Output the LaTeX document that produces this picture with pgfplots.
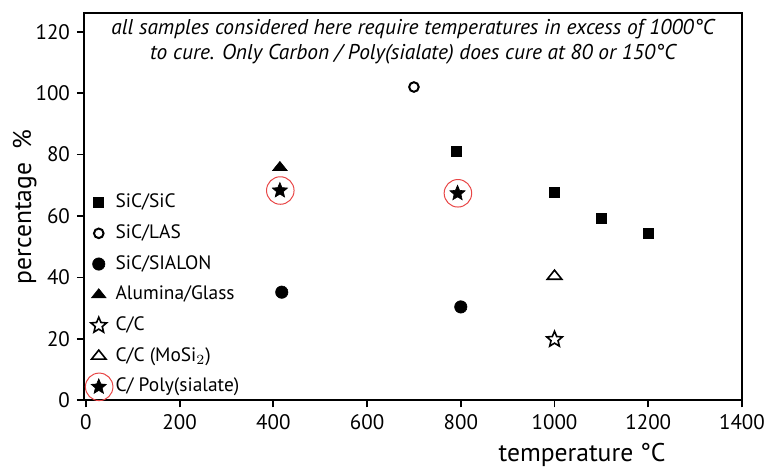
\documentclass[border=0pt]{standalone}
\usepackage{fontspec}
\setmainfont{PT Sans}
\usepackage{pgfplots}
\pgfplotsset{compat=1.18}
\usetikzlibrary{plotmarks}
\definecolor{myred}{RGB}{232,70,70}

\pgfdeclareplotmark{fstar}{%
  \pgfpathmoveto{\pgfpointpolar{90}{\pgfplotmarksize}}%
  \pgfpathlineto{\pgfpointpolar{126}{0.45\pgfplotmarksize}}%
  \pgfpathlineto{\pgfpointpolar{162}{\pgfplotmarksize}}%
  \pgfpathlineto{\pgfpointpolar{198}{0.45\pgfplotmarksize}}%
  \pgfpathlineto{\pgfpointpolar{234}{\pgfplotmarksize}}%
  \pgfpathlineto{\pgfpointpolar{270}{0.45\pgfplotmarksize}}%
  \pgfpathlineto{\pgfpointpolar{306}{\pgfplotmarksize}}%
  \pgfpathlineto{\pgfpointpolar{342}{0.45\pgfplotmarksize}}%
  \pgfpathlineto{\pgfpointpolar{18}{\pgfplotmarksize}}%
  \pgfpathlineto{\pgfpointpolar{54}{0.45\pgfplotmarksize}}%
  \pgfpathclose\pgfusepathqfillstroke}

\pgfdeclareplotmark{cstar}{%
  \pgfuseplotmark{fstar}%
  \begin{pgfinterruptboundingbox}%
  \begin{pgfscope}\pgfsetstrokecolor{myred}\pgfsetlinewidth{0.5pt}%
  \pgfpathcircle{\pgfpoint{0.2pt}{0pt}}{1.72\pgfplotmarksize}\pgfusepathqstroke\end{pgfscope}%
  \end{pgfinterruptboundingbox}}

\pgfplotsset{
  mymarks/.style={only marks,
    legend image code/.code={\draw[mark repeat=2,mark phase=2,##1] plot coordinates {(0cm,0cm)(0.2cm,0cm)(0.4cm,0cm)};}},
}

\begin{document}
\begin{tikzpicture}
\begin{axis}[
  name=ax,
  scale only axis, width=329pt, height=193.5pt,
  xmin=-4, xmax=1400, ymin=0, ymax=126,
  xtick={0,200,...,1400}, ytick={0,20,...,120},
  tick pos=left, tick align=outside, major tick length=3.5pt,
  axis line style={line width=0.9pt},
  every tick/.style={line width=0.9pt, black},
  ticklabel style={font=\fontsize{10.5}{12}\selectfont},
  /pgf/number format/assume math mode=true,
  /pgf/number format/set thousands separator={},
  xlabel={temperature °C}, ylabel={percentage\ \ \%},
  label style={font=\fontsize{12.8}{14}\selectfont},
  xlabel style={at={(axis description cs:0.757,-0.14)}, anchor=center},
  ylabel style={at={(axis description cs:-0.09,0.5)}, anchor=center},
  legend cell align=left,
  legend style={draw=none, fill=none, at={(axis description cs:0.010,0.535)}, anchor=north west,
    font=\fontsize{9.7}{11}\selectfont, inner sep=0pt,
    nodes={inner sep=0pt, text height=7pt, text depth=2pt},
    row sep=6.35pt, column sep=4.5pt},
]
\addplot[mymarks, mark=square*, mark size=2.5pt, black, line width=0.3pt] coordinates {(790,81.2) (1000,67.7) (1100,59.3) (1200,54.3)};
\addlegendentry{SiC/SiC}
\addplot[mymarks, mark=o, mark size=2.4pt, black, line width=1pt, mark options={fill=white}] coordinates {(700,102)};
\addlegendentry{SiC/LAS}
\addplot[mymarks, mark=*, mark size=3.1pt, black, line width=0.3pt] coordinates {(418,35.2) (800,30.4)};
\addlegendentry{SiC/SIALON}
\addplot[mymarks, mark=triangle*, mark size=4.2pt, black, line width=0.3pt, mark options={yscale=0.72}] coordinates {(414,75.8)};
\addlegendentry{Alumina/Glass}
\addplot[mymarks, mark=fstar, mark size=4.1pt, black, line width=0.8pt, mark options={fill=white}] coordinates {(1000,19.8)};
\addlegendentry{C/C}
\addplot[mymarks, mark=triangle, mark size=4.2pt, black, line width=0.8pt, mark options={yscale=0.72, fill=white}] coordinates {(1000,40.4)};
\addlegendentry{C/C (MoSi$_2$)}
\addplot[mymarks, mark=cstar, mark size=4pt, black, line width=0.3pt, mark options={fill=black}] coordinates {(414,68.3) (793,67.4)};
\addlegendentry{C/ Poly(sialate)}
\node[align=center, anchor=north, inner sep=1pt, font=\itshape\fontsize{10.7}{12.5}\selectfont] at (rel axis cs:0.5,1) [yshift=-2pt]
  {all samples considered here require temperatures in excess of 1000°C\\ to cure. Only Carbon / Poly(sialate) does cure at 80 or 150°C};
\end{axis}
\pgfresetboundingbox
\path[use as bounding box] ([shift={(-42pt,-34.75pt)}]ax.south west) rectangle ([shift={(18.5pt,6.65pt)}]ax.north east);
\end{tikzpicture}
\end{document}
